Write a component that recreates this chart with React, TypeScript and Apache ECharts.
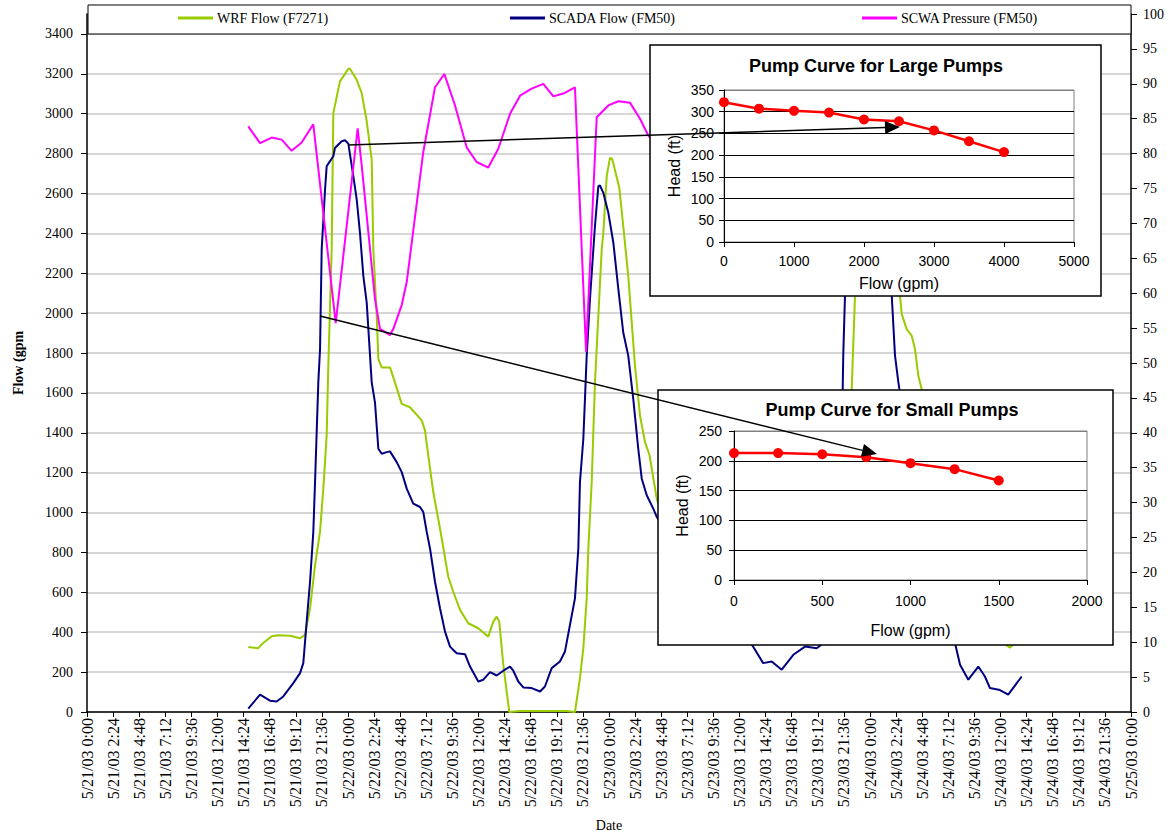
import React, { useEffect, useRef } from "react";
import * as echarts from "echarts";

// ---- tick labels (time axis, hours since 5/21/03 0:00, one tick every 2.4 h)
const dayLabels = ["5/21/03", "5/22/03", "5/23/03", "5/24/03", "5/25/03"];
const timeLabels = ["0:00", "2:24", "4:48", "7:12", "9:36", "12:00", "14:24", "16:48", "19:12", "21:36"];
const tickLabels: string[] = [];
dayLabels.forEach((d, i) => {
  if (i < dayLabels.length - 1) timeLabels.forEach((t) => tickLabels.push(d + " " + t));
  else tickLabels.push(d + " " + timeLabels[0]);
});

// ---- main series: [hours since 5/21/03 0:00, value]
const wrfFlow: [number, number][] = [
  [14.83, 326], [15.75, 320], [16.18, 345], [16.98, 380], [17.56, 385], [18.67, 382], [19.59, 370],
  [20.05, 387], [20.51, 520], [20.97, 737], [21.43, 905], [21.73, 1120], [22.04, 1387], [22.19, 1737],
  [22.5, 2320], [22.65, 3003], [23.26, 3162], [24.03, 3225], [24.18, 3225], [24.8, 3170], [25.26, 3103],
  [25.72, 2962], [26.18, 2770], [26.33, 2320], [26.64, 1987], [26.79, 1770], [27.1, 1728], [27.86, 1728],
  [28.17, 1678], [28.94, 1545], [29.7, 1528], [30.78, 1462], [31.08, 1412], [31.38, 1287], [31.84, 1103],
  [32.46, 920], [33.22, 678], [33.68, 603], [34.3, 512], [35.06, 445], [35.98, 420], [36.9, 378],
  [37.36, 453], [37.67, 478], [37.91, 453], [38.28, 237], [38.83, 0], [39.82, 5], [44.11, 5], [44.87, 0],
  [45.33, 170], [45.64, 320], [45.95, 570], [46.1, 820], [46.41, 1153], [46.71, 1653], [47.02, 1987],
  [47.33, 2320], [47.48, 2403], [47.79, 2687], [48.09, 2778], [48.3, 2773], [48.95, 2628], [49.31, 2437],
  [49.77, 2187], [50.39, 1737], [50.85, 1487], [51.31, 1353], [51.72, 1290], [52.39, 1070],
  [54.53, 700], [58.21, 520], [63.72, 430], [68.32, 600], [69.98, 1100], [70.32, 1620], [70.62, 2087],
  [71.26, 2750], [72.46, 2900], [73.84, 2500], [74.76, 2087], [74.92, 1995], [75.37, 1920], [75.83, 1887],
  [76.14, 1820], [76.44, 1687], [76.75, 1620], [78.44, 1000], [81.2, 600], [83.49, 400], [84.26, 345],
  [84.87, 323], [85.33, 345], [86.25, 420],
];

const scadaFlow: [number, number][] = [
  [14.83, 17], [15.91, 87], [16.83, 57], [17.44, 53], [18.05, 78], [18.97, 145], [19.59, 195], [19.89, 245],
  [20.2, 453], [20.51, 653], [20.81, 903], [20.97, 1153], [21.12, 1403], [21.27, 1653], [21.43, 1820],
  [21.58, 2320], [21.89, 2620], [22.04, 2737], [22.65, 2787], [22.8, 2828], [23.42, 2862], [23.72, 2867],
  [24.03, 2850], [24.49, 2687], [24.8, 2570], [25.1, 2403], [25.41, 2187], [25.72, 2053], [26.18, 1653],
  [26.48, 1553], [26.79, 1320], [27.1, 1295], [27.56, 1303], [27.86, 1307], [28.48, 1253], [28.94, 1203],
  [29.4, 1120], [30.0, 1045], [30.62, 1028], [30.92, 1003], [31.24, 903], [31.54, 820], [32.0, 653],
  [32.46, 520], [32.92, 403], [33.38, 328], [33.99, 295], [34.76, 290], [35.22, 228], [35.98, 153],
  [36.44, 162], [37.06, 200], [37.67, 183], [38.28, 207], [38.9, 228], [39.2, 207], [39.66, 153],
  [40.12, 123], [40.89, 120], [41.66, 103], [42.11, 128], [42.73, 220], [43.49, 253], [43.95, 303],
  [44.41, 437], [44.87, 570], [45.18, 820], [45.33, 1153], [45.64, 1370], [45.79, 1570], [45.95, 1787],
  [46.25, 2070], [46.56, 2320], [46.71, 2437], [47.02, 2637], [47.17, 2640], [47.48, 2603], [47.94, 2503],
  [48.4, 2353], [48.86, 2120], [49.31, 1903], [49.77, 1787], [50.23, 1570], [50.69, 1320], [51.01, 1170],
  [51.47, 1087], [52.07, 1020], [52.39, 978], [54.53, 800], [57.29, 600], [59.59, 450], [61.12, 340],
  [62.18, 245], [62.96, 253], [63.88, 212], [64.95, 287], [66.02, 328], [67.1, 320], [67.71, 345],
  [68.6, 700], [69.24, 1300], [69.49, 1620], [69.54, 1787], [69.7, 2087], [70.16, 2500], [71.54, 2650],
  [73.38, 2550], [74.0, 2087], [74.3, 1787], [74.61, 1653], [74.7, 1620], [76.6, 1000], [78.44, 600],
  [79.82, 345], [80.28, 237], [81.04, 162], [81.96, 228], [82.57, 178], [83.03, 120], [83.95, 110],
  [84.71, 87], [85.95, 178],
];

const scwaPressure: [number, number][] = [
  [14.83, 83.9], [15.91, 81.5], [16.98, 82.3], [17.9, 82.0], [18.82, 80.4], [19.74, 81.6], [20.81, 84.2],
  [22.87, 55.7], [24.89, 83.6], [25.26, 78.3], [26.48, 59.2], [26.94, 54.9], [27.86, 54.0], [28.17, 54.9],
  [28.94, 58.3], [29.4, 61.6], [30.92, 80.2], [32.0, 89.5], [32.86, 91.4], [33.84, 86.9], [34.91, 80.9],
  [35.83, 78.8], [36.9, 78.0], [37.82, 80.7], [38.9, 85.7], [39.82, 88.3], [40.89, 89.3], [41.96, 90.0],
  [42.88, 88.2], [43.8, 88.6], [44.87, 89.5], [45.89, 51.6], [46.87, 85.2], [47.94, 86.9], [48.86, 87.5],
  [49.93, 87.3], [50.85, 85.0], [51.61, 82.6], [53.15, 80.0], [55.45, 82.0],
];

// ---- inset pump curves
const largePumpFlow = [0, 500, 1000, 1500, 2000, 2500, 3000, 3500, 4000];
const largePumpHead = [322, 307, 302, 298, 282, 278, 257, 232, 207];
const smallPumpFlow = [0, 250, 500, 750, 1000, 1250, 1500];
const smallPumpHead = [213, 213, 211, 206, 196, 186, 167];

const serif = "'Liberation Serif', 'Times New Roman', serif";
const sans = "'Liberation Sans', Arial, sans-serif";
const plain = (v: number) => String(v);

function arrow(x1: number, y1: number, x2: number, y2: number, z: number) {
  const len = Math.hypot(x2 - x1, y2 - y1);
  const ux = (x2 - x1) / len;
  const uy = (y2 - y1) / len;
  const hl = 15;
  const hw = 6.5;
  const bx = x2 - ux * hl;
  const by = y2 - uy * hl;
  return [
    { type: "line", z, shape: { x1, y1, x2: bx, y2: by }, style: { stroke: "#000", lineWidth: 1.5 } },
    {
      type: "polygon",
      z,
      shape: { points: [[x2, y2], [bx - uy * hw, by + ux * hw], [bx + uy * hw, by - ux * hw]] },
      style: { fill: "#000" },
    },
  ];
}

const insetAxisCommon = {
  axisLine: { show: true, lineStyle: { color: "#000", width: 1 } },
  axisTick: { show: true, inside: false, length: 5, lineStyle: { color: "#000" } },
  nameTextStyle: { fontFamily: sans, fontSize: 16, color: "#000" },
  nameLocation: "middle",
  z: 60,
};

const option: any = {
  animation: false,
  backgroundColor: "#fff",
  grid: [
    { left: 87, top: 14, width: 1044, height: 700 },
    { left: 724, top: 90, width: 350, height: 152, show: true, borderColor: "#808080", borderWidth: 1, z: 55 },
    { left: 734, top: 431, width: 353, height: 149, show: true, borderColor: "#808080", borderWidth: 1, z: 55 },
  ],
  title: [
    {
      text: "Pump Curve for Large Pumps", left: 876, top: 57, textAlign: "center", padding: 0, z: 61,
      textStyle: { fontFamily: sans, fontSize: 18, fontWeight: "bold", color: "#000" },
    },
    {
      text: "Pump Curve for Small Pumps", left: 892, top: 401, textAlign: "center", padding: 0, z: 61,
      textStyle: { fontFamily: sans, fontSize: 18, fontWeight: "bold", color: "#000" },
    },
  ],
  legend: [
    { data: ["WRF Flow (F7271)"], left: 178, top: 11 },
    { data: ["SCADA Flow (FM50)"], left: 510, top: 11 },
    { data: ["SCWA Pressure (FM50)"], left: 862, top: 11 },
  ].map((l) => ({
    ...l,
    padding: 0,
    icon: "rect",
    itemWidth: 35,
    itemHeight: 3,
    itemGap: 4,
    z: 60,
    selectedMode: false,
    textStyle: { fontFamily: serif, fontSize: 14, color: "#000", padding: [0, 0, 0, -1] },
  })),
  xAxis: [
    {
      type: "value", gridIndex: 0, min: 0, max: 96, interval: 2.4,
      axisLine: { show: true, lineStyle: { color: "#000", width: 1.5 } },
      axisTick: { show: true, length: 5, lineStyle: { color: "#000" } },
      axisLabel: {
        rotate: 90, margin: 6, fontFamily: serif, fontSize: 16, color: "#000",
        formatter: (v: number) => tickLabels[Math.round(v / 2.4)] ?? "",
      },
      splitLine: { show: false },
      name: "Date", nameLocation: "middle", nameGap: 106,
      nameTextStyle: { fontFamily: serif, fontSize: 14, color: "#000" },
    },
    {
      ...insetAxisCommon, type: "value", gridIndex: 1, min: 0, max: 5000, interval: 1000,
      axisLabel: { margin: 12, fontFamily: sans, fontSize: 14, color: "#000", formatter: plain },
      splitLine: { show: false },
      name: "Flow (gpm)", nameGap: 33,
    },
    {
      ...insetAxisCommon, type: "value", gridIndex: 2, min: 0, max: 2000, interval: 500,
      axisLabel: { margin: 14, fontFamily: sans, fontSize: 14, color: "#000", formatter: plain },
      splitLine: { show: false },
      name: "Flow (gpm)", nameGap: 42,
    },
  ],
  yAxis: [
    {
      type: "value", gridIndex: 0, position: "left", min: 0, max: 3500, interval: 200,
      axisLine: { show: true, lineStyle: { color: "#000", width: 1.5 } },
      axisTick: { show: true, length: 6, lineStyle: { color: "#000" } },
      axisLabel: { margin: 14, fontFamily: serif, fontSize: 14, color: "#000", showMaxLabel: false, formatter: plain },
      splitLine: { show: true, lineStyle: { color: "#C8C8C8", width: 1.5 } },
      name: "Flow (gpm", nameLocation: "middle", nameGap: 62,
      nameTextStyle: { fontFamily: serif, fontSize: 14, fontWeight: "bold", color: "#000" },
    },
    {
      type: "value", gridIndex: 0, position: "right", min: 0, max: 100, interval: 5,
      axisLine: { show: true, lineStyle: { color: "#000", width: 1.5 } },
      axisTick: { show: true, length: 6, lineStyle: { color: "#000" } },
      axisLabel: { margin: 12, fontFamily: serif, fontSize: 14, color: "#000", formatter: plain },
      splitLine: { show: false },
    },
    {
      ...insetAxisCommon, type: "value", gridIndex: 1, min: 0, max: 350, interval: 50,
      axisLabel: { margin: 10, fontFamily: sans, fontSize: 14, color: "#000", formatter: plain },
      splitLine: {
        show: true,
        lineStyle: { color: ["#000", "#000", "#000", "#000", "#000", "#000", "#000", "#808080"], width: 1 },
      },
      name: "Head (ft)", nameGap: 42,
    },
    {
      ...insetAxisCommon, type: "value", gridIndex: 2, min: 0, max: 250, interval: 50,
      axisLabel: { margin: 12, fontFamily: sans, fontSize: 14, color: "#000", formatter: plain },
      splitLine: {
        show: true,
        lineStyle: { color: ["#000", "#000", "#000", "#000", "#000", "#808080"], width: 1 },
      },
      name: "Head (ft)", nameGap: 44,
    },
  ],
  series: [
    {
      name: "WRF Flow (F7271)", type: "line", xAxisIndex: 0, yAxisIndex: 0, data: wrfFlow,
      symbol: "none", lineStyle: { color: "#99CC00", width: 2 }, itemStyle: { color: "#99CC00" }, z: 2,
    },
    {
      name: "SCADA Flow (FM50)", type: "line", xAxisIndex: 0, yAxisIndex: 0, data: scadaFlow,
      symbol: "none", lineStyle: { color: "#000080", width: 2 }, itemStyle: { color: "#000080" }, z: 3,
    },
    {
      name: "SCWA Pressure (FM50)", type: "line", xAxisIndex: 0, yAxisIndex: 1, data: scwaPressure,
      symbol: "none", lineStyle: { color: "#FF00FF", width: 2 }, itemStyle: { color: "#FF00FF" }, z: 4,
    },
    {
      name: "Large Pump Curve", type: "line", xAxisIndex: 1, yAxisIndex: 2,
      data: largePumpFlow.map((f, i) => [f, largePumpHead[i]]),
      symbol: "circle", symbolSize: 10, lineStyle: { color: "#FF0000", width: 2.5 },
      itemStyle: { color: "#FF0000" }, z: 62,
    },
    {
      name: "Small Pump Curve", type: "line", xAxisIndex: 2, yAxisIndex: 3,
      data: smallPumpFlow.map((f, i) => [f, smallPumpHead[i]]),
      symbol: "circle", symbolSize: 10, lineStyle: { color: "#FF0000", width: 2.5 },
      itemStyle: { color: "#FF0000" }, z: 62,
    },
  ],
  graphic: [
    { type: "rect", z: 50, shape: { x: 88, y: 5, width: 1043, height: 29 }, style: { fill: "#fff", stroke: "#000", lineWidth: 1 } },
    { type: "rect", z: 50, shape: { x: 650, y: 45, width: 451, height: 251 }, style: { fill: "#fff", stroke: "#000", lineWidth: 1.5 } },
    { type: "rect", z: 50, shape: { x: 658, y: 390, width: 455, height: 255 }, style: { fill: "#fff", stroke: "#000", lineWidth: 1.5 } },
    ...arrow(348, 145, 900, 127, 70),
    ...arrow(320, 316, 877, 454, 70),
  ],
};

export default function App() {
  const ref = useRef<HTMLDivElement>(null);
  useEffect(() => {
    document.body.style.margin = "0";
    const chart = echarts.init(ref.current!, null, { renderer: "svg" });
    chart.setOption(option);
    return () => chart.dispose();
  }, []);
  return <div ref={ref} style={{ width: 1171, height: 837 }} />;
}
